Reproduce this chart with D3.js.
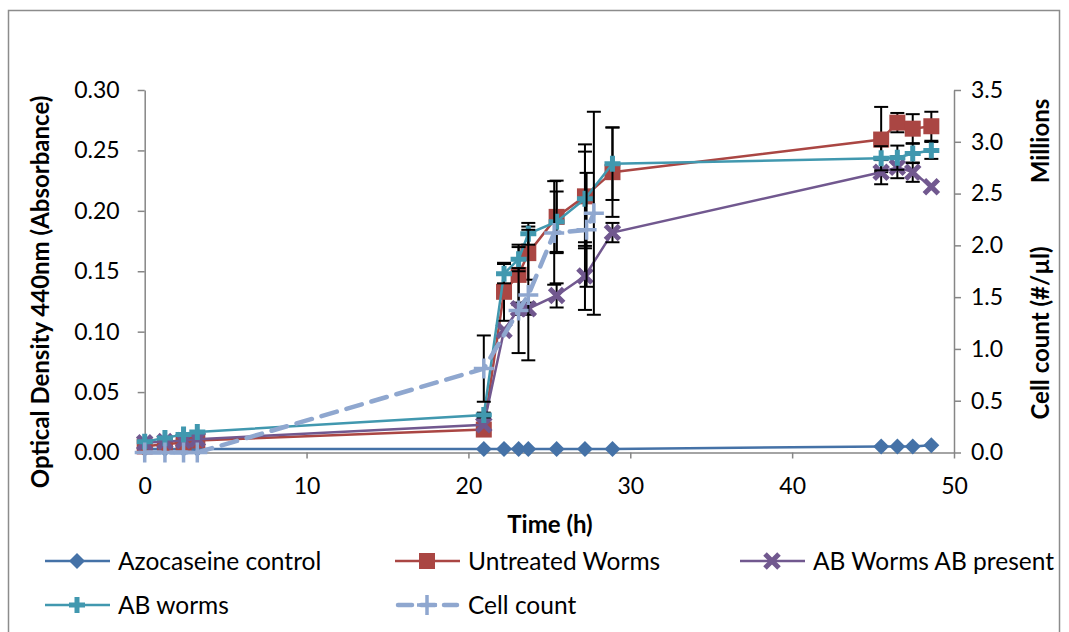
<!DOCTYPE html>
<html>
<head>
<meta charset="utf-8">
<script src="https://cdn.jsdelivr.net/npm/d3@7"></script>
<style>
  body { margin: 0; background: #fff; }
  text { font-family: Lato, "Open Sans", sans-serif; }
</style>
</head>
<body>
<div id="chart"></div>
<script>
// sampling times (h) shared by the four absorbance series
var times = [0, 1.25, 2.4, 3.25, 20.95, 22.2, 23.1, 23.7, 25.45, 27.2, 28.9, 45.5, 46.5, 47.45, 48.6];

var azocaseine = [0.003, 0.003, 0.003, 0.003, 0.003, 0.003, 0.003, 0.003, 0.003, 0.003, 0.003, 0.005, 0.005, 0.005, 0.006];
var untreated = [0.005, 0.007, 0.008, 0.010, 0.019, 0.133, 0.147, 0.165, 0.195, 0.212, 0.232, 0.259, 0.273, 0.268, 0.270];
var untreatedErr = [0, 0, 0, 0, 0, 0.024, 0.025, 0.022, 0.030, 0.043, 0.037, 0.027, 0.008, 0.012, 0.012];
var abPresent = [0.008, 0.009, 0.010, 0.011, 0.023, 0.101, 0.119, 0.119, 0.130, 0.146, 0.182, 0.232, 0.236, 0.232, 0.220];
var abPresentErr = [0, 0, 0, 0, 0, 0, 0.005, 0.005, 0.010, 0.028, 0.008, 0.010, 0.009, 0.008, 0];
var abWorms = [0.009, 0.012, 0.015, 0.017, 0.031, 0.148, 0.160, 0.181, 0.191, 0.210, 0.239, 0.2435, 0.244, 0.2475, 0.250];
var abWormsErr = [0, 0, 0, 0, 0.002, 0.008, 0.010, 0.009, 0.025, 0.039, 0.030, 0.010, 0.010, 0.008, 0.007];

// cell count, secondary axis (millions per µl)
var cellTimes = [0, 1.25, 2.4, 3.25, 20.95, 23.1, 23.7, 25.3, 27.3, 27.75];
var cellCount = [0, 0, 0, 0, 0.81, 1.37, 1.52, 2.12, 2.15, 2.31];
var cellErr = [0, 0, 0, 0, 0.32, 0.41, 0.63, 0.5, 0.55, 0.98];

var xTicks = [0, 10, 20, 30, 40, 50];
var yTicks = [0, 0.05, 0.10, 0.15, 0.20, 0.25, 0.30];
var y2Ticks = [0, 0.5, 1.0, 1.5, 2.0, 2.5, 3.0, 3.5];

var width = 1069, height = 632;
var axisColor = '#868686';

var svg = d3.select('#chart').append('svg')
	.attr('width', width).attr('height', height);

svg.append('rect')
	.attr('x', 8.5).attr('y', 10.5)
	.attr('width', 1051).attr('height', 660)
	.attr('fill', 'none').attr('stroke', '#8c8c8c').attr('stroke-width', 1.5);

var x = d3.scaleLinear().domain([0, 50]).range([144.7, 954]);
var y = d3.scaleLinear().domain([0, 0.30]).range([452.5, 90]);
var y2 = d3.scaleLinear().domain([0, 3.5]).range([452.5, 90]);

function styleAxis(g) {
	g.selectAll('path, line').attr('stroke', axisColor).attr('stroke-width', 1.5);
	g.selectAll('text').attr('fill', '#000').style('font-size', '23px');
}

svg.append('g')
	.attr('transform', 'translate(0,' + y(0) + ')')
	.call(d3.axisBottom(x).tickValues(xTicks).tickSize(6).tickSizeOuter(0).tickPadding(19).tickFormat(d3.format('d')))
	.call(styleAxis);

svg.append('g')
	.attr('transform', 'translate(' + x(0) + ',0)')
	.call(d3.axisLeft(y).tickValues(yTicks).tickSize(7).tickSizeOuter(0).tickPadding(18).tickFormat(d3.format('.2f')))
	.call(styleAxis);

svg.append('g')
	.attr('transform', 'translate(' + x(50) + ',0)')
	.call(d3.axisRight(y2).tickValues(y2Ticks).tickSize(7).tickSizeOuter(0).tickPadding(10).tickFormat(d3.format('.1f')))
	.call(styleAxis);

// axis titles
svg.append('text')
	.attr('transform', 'translate(49,292) rotate(-90)')
	.attr('text-anchor', 'middle')
	.style('font-size', '24px').style('font-weight', 'bold')
	.text('Optical Density 440nm (Absorbance)');

svg.append('text')
	.attr('x', 550).attr('y', 533)
	.attr('text-anchor', 'middle')
	.style('font-size', '24px').style('font-weight', 'bold')
	.text('Time (h)');

svg.append('text')
	.attr('transform', 'translate(1049,333) rotate(-90)')
	.attr('text-anchor', 'middle')
	.style('font-size', '24px').style('font-weight', 'bold')
	.text('Cell count (#/µl)');

svg.append('text')
	.attr('transform', 'translate(1049,141) rotate(-90)')
	.attr('text-anchor', 'middle')
	.style('font-size', '24px').style('font-weight', 'bold')
	.text('Millions');

// marker shapes
function marker(g, type, color) {
	if (type === 'diamond') {
		g.append('path').attr('d', 'M0,-8L8,0L0,8L-8,0Z').attr('fill', color);
	} else if (type === 'square') {
		g.append('rect').attr('x', -8).attr('y', -8).attr('width', 16).attr('height', 16).attr('fill', color);
	} else if (type === 'x') {
		g.append('path').attr('d', 'M-7,-7L7,7M-7,7L7,-7')
			.attr('stroke', color).attr('stroke-width', 5).attr('fill', 'none');
	} else if (type === 'plus') {
		g.append('path').attr('d', 'M-8,0L8,0M0,-8L0,8')
			.attr('stroke', color).attr('stroke-width', 5).attr('fill', 'none');
	} else if (type === 'thinplus') {
		g.append('path').attr('d', 'M-10,0L10,0M0,-10L0,10')
			.attr('stroke', color).attr('stroke-width', 3.5).attr('fill', 'none');
	}
}

var series = [
	{ name: 'Azocaseine control', t: times, v: azocaseine, err: null, color: '#4572A7', type: 'diamond', scale: y, dash: null },
	{ name: 'Untreated Worms', t: times, v: untreated, err: untreatedErr, color: '#AA4643', type: 'square', scale: y, dash: null },
	{ name: 'AB Worms AB present', t: times, v: abPresent, err: abPresentErr, color: '#71588F', type: 'x', scale: y, dash: null },
	{ name: 'AB worms', t: times, v: abWorms, err: abWormsErr, color: '#4198AF', type: 'plus', scale: y, dash: null },
	{ name: 'Cell count', t: cellTimes, v: cellCount, err: cellErr, color: '#8FA7CF', type: 'thinplus', scale: y2, dash: '16,10' }
];

series.forEach(function(s) {
	var pts = s.t.map(function(t, i) { return { t: t, v: s.v[i], e: s.err ? s.err[i] : 0 }; });
	var g = svg.append('g');

	var line = d3.line()
		.x(function(d) { return x(d.t); })
		.y(function(d) { return s.scale(d.v); });

	g.append('path')
		.datum(pts)
		.attr('d', line)
		.attr('fill', 'none')
		.attr('stroke', s.color)
		.attr('stroke-width', s.dash ? 4.5 : 2.5)
		.attr('stroke-linecap', s.dash ? 'round' : 'butt')
		.attr('stroke-dasharray', s.dash);

	var eb = g.selectAll('.err')
		.data(pts.filter(function(d) { return d.e > 0; }))
		.enter().append('g').attr('class', 'err');
	eb.append('line')
		.attr('x1', function(d) { return x(d.t); }).attr('x2', function(d) { return x(d.t); })
		.attr('y1', function(d) { return s.scale(d.v + d.e); })
		.attr('y2', function(d) { return s.scale(d.v - d.e); });
	eb.append('line')
		.attr('x1', function(d) { return x(d.t) - 7; }).attr('x2', function(d) { return x(d.t) + 7; })
		.attr('y1', function(d) { return s.scale(d.v + d.e); })
		.attr('y2', function(d) { return s.scale(d.v + d.e); });
	eb.append('line')
		.attr('x1', function(d) { return x(d.t) - 7; }).attr('x2', function(d) { return x(d.t) + 7; })
		.attr('y1', function(d) { return s.scale(d.v - d.e); })
		.attr('y2', function(d) { return s.scale(d.v - d.e); });
	eb.selectAll('line').attr('stroke', '#000').attr('stroke-width', 2);

	g.selectAll('.mk')
		.data(pts)
		.enter().append('g').attr('class', 'mk')
		.attr('transform', function(d) { return 'translate(' + x(d.t) + ',' + s.scale(d.v) + ')'; })
		.each(function() { marker(d3.select(this), s.type, s.color); });
});

// legend
var legendPos = [[45, 561], [395, 561], [740, 561], [45, 605], [395, 605]];
var leg = svg.selectAll('.legend')
	.data(series)
	.enter().append('g').attr('class', 'legend')
	.attr('transform', function(d, i) { return 'translate(' + legendPos[i][0] + ',' + legendPos[i][1] + ')'; });

leg.append('line')
	.attr('x1', function(d) { return d.dash ? 3 : 0; }).attr('x2', function(d) { return d.dash ? 62 : 65; })
	.attr('stroke', function(d) { return d.color; })
	.attr('stroke-width', function(d) { return d.dash ? 4.5 : 2.5; })
	.attr('stroke-linecap', function(d) { return d.dash ? 'round' : 'butt'; })
	.attr('stroke-dasharray', function(d) { return d.dash ? '14,9' : null; });

leg.append('g').attr('transform', 'translate(32,0)')
	.each(function(d) { marker(d3.select(this), d.type, d.color); });

leg.append('text')
	.attr('x', 73).attr('dy', '0.35em')
	.style('font-size', '24.5px')
	.text(function(d) { return d.name; });
</script>
</body>
</html>
